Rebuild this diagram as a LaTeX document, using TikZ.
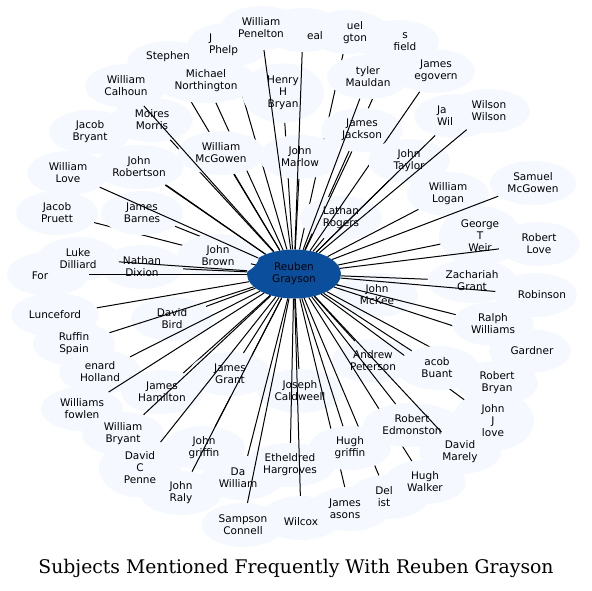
\documentclass[tikz,border=0pt]{standalone}
\usepackage{fontspec}
\usetikzlibrary{shapes.geometric}
\newfontfamily\lblfont{DejaVu Sans}
\newfontfamily\ttlfont{DejaVu Serif}
\definecolor{blobfill}{RGB}{245,249,255}
\definecolor{hubblue}{RGB}{11,79,156}
\newcommand\ghost[1]{\phantom{\begin{tabular}{@{}c@{}}#1\end{tabular}}}

\begin{document}
\begin{tikzpicture}[x=1pt,y=-1pt,
  blob/.style={ellipse,fill=blobfill,inner xsep=5pt,inner ysep=3pt,
    font=\lblfont\fontsize{10.5}{12}\selectfont,
    minimum width=82pt,minimum height=44pt},
  hub/.style={ellipse,fill=hubblue,inner sep=0pt,minimum width=94pt,minimum height=49pt,
    align=center,font=\lblfont\fontsize{10.5}{12}\selectfont},
  txt/.style={inner sep=0pt,align=center,font=\lblfont\fontsize{10.5}{12}\selectfont},
  ctxt/.style={},
  ltxt/.style={text width=30pt,align=left},
  edge/.style={draw,line width=1pt},
  ttl/.style={inner sep=0pt,font=\ttlfont\fontsize{18.8}{21}\selectfont}
]
  \useasboundingbox (0,0) rectangle (592,590);

  \node[hub] (hub) at (294,274) {Reuben\\Grayson};

  % people, in drawing order: blob, then its line to the hub
  \def\people{steph/168/63/0/-6/ctxt/{Stephen},
    phel/228/45/-4/0/ltxt/{J\\Phelp},
    gton/348/32/7/1/ctxt/{uel\\gton},
    fld/398/42/7/0/ctxt/{s\\field},
    henry/283/93/0/0/ctxt/{Henry\\H\\Bryan},
    pruett/57/213/0/0/ctxt/{Jacob\\Pruett},
    moires/152/120/0/0/ctxt/{Moires\\Morris},
    lathan/341/218/0/0/ctxt/{Lathan\\Rogers},
    barnes/142/213/0/0/ctxt/{James\\Barnes},
    hamil/162/392/0/0/ctxt/{James\\Hamilton},
    bird/172/319/0/0/ctxt/{David\\Bird},
    jgrif/204/448/0/0/ctxt/{John\\griffin},
    grant/230/374/0/0/ctxt/{James\\Grant},
    caldw/300/391/0/0/ctxt/{Joseph\\Caldweell},
    ethel/290/465/0/0/ctxt/{Etheldred\\Hargroves},
    weir/480/236/0/0/ctxt/{George\\T\\Weir},
    jack/362/130/0/0/ctxt/{James\\Jackson},
    marlow/300/157/0/0/ctxt/{John\\Marlow},
    mckee/377/295/0/0/ctxt/{John\\McKee},
    andrew/373/361/0/0/ctxt/{Andrew\\Peterson},
    zach/472/281/0/0/ctxt/{Zachariah\\Grant},
    logan/448/194/0/0/ctxt/{William\\Logan},
    neal/303/30/12/6/ctxt/{eal},
    north/206/81/0/0/ctxt/{Michael\\Northington},
    mcgow/221/153/0/0/ctxt/{William\\McGowen},
    brown/218/256/0/0/ctxt/{John\\Brown},
    megov/434/71/2/0/ctxt/{James\\egovern},
    taylor/409/161/0/0/ctxt/{John\\Taylor},
    mauld/368/77/0/0/ctxt/{tyler\\Mauldan},
    pen/261/28/0/0/ctxt/{William\\Penelton},
    calh/126/86/0/0/ctxt/{William\\Calhoun},
    jbry/90/132/0/0/ctxt/{Jacob\\Bryant},
    wlove/68/173/0/0/ctxt/{William\\Love},
    robert/139/167/0/0/ctxt/{John\\Robertson},
    dixion/142/267/0/0/ctxt/{Nathan\\Dixion},
    dill/78/259/0/0/ctxt/{Luke\\Dilliard},
    ford/48/274/-8/2/ctxt/{For},
    lunce/55/315/0/0/ctxt/{Lunceford},
    ruffin/74/344/0/0/ctxt/{Ruffin\\Spain},
    holl/100/372/0/0/ctxt/{enard\\Holland},
    fowlen/82/409/0/0/ctxt/{Williams\\fowlen},
    wbry/123/434/0/0/ctxt/{William\\Bryant},
    penne/140/468/0/0/ctxt/{David\\C\\Penne},
    raly/181/493/0/0/ctxt/{John\\Raly},
    dawil/242/478/-4/0/ctxt/{Da\\William},
    samp/243/525/0/0/ctxt/{Sampson\\Connell},
    wilcox/301/518/0/4/ctxt/{Wilcox},
    jmas/350/509/-5/0/ctxt/{James\\asons},
    delist/388/497/-4/0/ctxt/{Del\\ist},
    hgrif/350/448/0/0/ctxt/{Hugh\\griffin},
    hwalk/425/482/0/0/ctxt/{Hugh\\Walker},
    edmon/412/425/0/0/ctxt/{Robert\\Edmonston},
    marely/460/452/0/0/ctxt/{David\\Marely},
    jjlove/493/421/0/0/ctxt/{John\\J\\love},
    rbryan/497/383/0/0/ctxt/{Robert\\Bryan},
    jbuant/438/368/-1/0/ctxt/{acob\\Buant},
    gard/530/351/2/0/ctxt/{Gardner},
    ralph/493/324/0/0/ctxt/{Ralph\\Williams},
    robin/536/295/6/0/ctxt/{Robinson},
    rlove/539/244/0/0/ctxt/{Robert\\Love},
    smcg/533/183/0/0/ctxt/{Samuel\\McGowen},
    jawil/455/116/-3/0/ltxt/{Ja\\Wil},
    wwil/489/111/0/0/ctxt/{Wilson\\Wilson}}

  \foreach \id/\x/\y/\dx/\dy/\sty/\lab in \people {
    \node[blob] (\id) at (\x,\y) {\ghost{\lab}};
    \draw[edge] (hub) -- (\id);
  }
  % names on top
  \foreach \id/\x/\y/\dx/\dy/\sty/\lab in \people
    \node[txt,\sty] at ([shift={(\dx,\dy)}]\id.center) {\lab};

  \node[ttl] (title) at (296,568) {Subjects Mentioned Frequently With Reuben Grayson};
\end{tikzpicture}
\end{document}
